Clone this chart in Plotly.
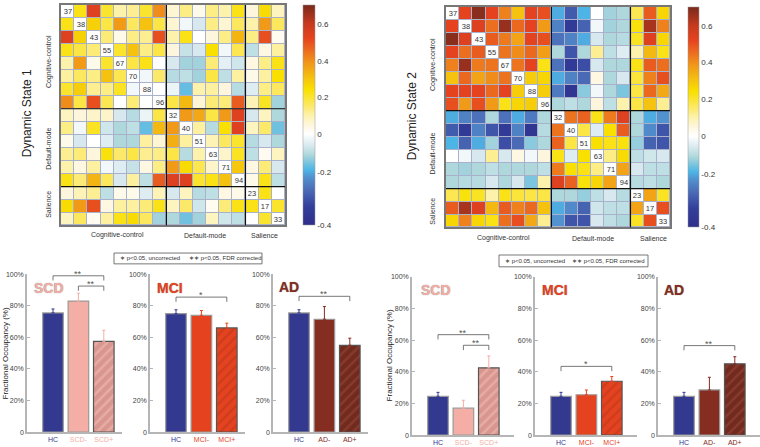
import numpy as np
import plotly.graph_objects as go

W, H = 760, 447

# region numbers on the matrix diagonal
region_ids = [37, 38, 43, 55, 67, 70, 88, 96, 32, 40, 51, 63, 71, 94, 23, 17, 33]

state1 = [
    [0, .22, .54, .20, .10, .12, .20, .40, .06, .13, .03, .13, .10, .22, .05, .25, .08],
    [.22, 0, .27, .18, .38, .16, .30, .18, .06, -.02, -.06, .13, .06, .16, .10, .38, .16],
    [.54, .27, 0, .14, .03, .13, .12, .50, .10, .22, 0, .05, .13, .33, .13, .50, .02],
    [.22, .18, .14, 0, .20, .30, .13, .18, .05, -.08, -.06, .24, -.02, .17, -.09, .04, .11],
    [.10, .38, .03, .20, 0, .18, .22, 0, -.06, -.12, -.12, .14, -.04, -.07, .04, .13, .22],
    [.11, .16, .13, .30, .17, 0, -.02, .15, -.10, -.09, -.12, .18, -.09, .11, .03, .11, .24],
    [.20, .28, .12, .13, .21, -.02, 0, 0, -.03, -.17, .10, .11, .05, -.10, -.05, .13, .16],
    [.40, .18, .50, .17, 0, .14, 0, 0, .18, .32, .06, .14, .14, .48, .09, .21, -.12],
    [.08, .05, .07, .07, -.06, -.10, -.03, .18, 0, .38, .35, .18, .38, .54, -.06, .08, -.11],
    [.13, -.02, .21, -.07, -.11, -.09, -.17, .32, .38, 0, .11, -.10, .24, .54, .08, .15, -.16],
    [.03, -.06, 0, -.05, -.11, -.11, .11, .06, .34, .11, 0, .09, .16, .20, -.10, -.06, -.11],
    [.12, .14, .05, .23, .15, .18, .12, .13, .18, -.10, .10, 0, .07, .21, -.09, .02, .08],
    [.10, .04, .11, -.02, -.05, -.08, .04, .13, .38, .25, .17, .07, 0, .29, .04, .14, -.06],
    [.22, .14, .33, .16, -.06, .11, -.09, .48, .54, .54, .20, .22, .30, 0, .03, .22, -.09],
    [.05, .09, .12, -.09, .03, .03, -.05, .09, -.06, .08, -.10, -.09, .04, .03, 0, .22, 0],
    [.25, .38, .50, .04, .11, .11, .14, .22, .08, .15, -.07, .02, .14, .22, .22, 0, .20],
    [.08, .16, .02, .11, .22, .25, .16, -.12, -.11, -.16, -.12, .08, -.07, -.09, 0, .20, 0],
]

state2 = [
    [0, .52, .68, .52, .42, .30, .52, .50, -.20, -.29, -.19, 0, -.12, -.11, .17, .48, .26],
    [.52, 0, .54, .45, .66, .46, .52, .38, -.24, -.35, -.28, -.02, -.12, -.11, .23, .64, .42],
    [.68, .54, 0, .48, .43, .36, .52, .50, -.26, -.24, -.20, -.06, -.11, -.10, .21, .54, .26],
    [.52, .45, .48, 0, .44, .40, .46, .37, -.11, -.30, -.11, .12, -.09, -.05, .10, .32, .22],
    [.42, .66, .43, .44, 0, .44, .52, .22, -.26, -.35, -.31, -.06, -.11, -.11, .22, .48, .45],
    [.30, .46, .36, .40, .44, 0, .28, .26, -.20, -.24, -.27, .04, -.11, -.06, .19, .42, .50],
    [.52, .52, .52, .46, .52, .28, 0, .28, -.25, -.37, -.14, -.02, -.11, -.15, .18, .46, .35],
    [.50, .38, .50, .38, .22, .26, .28, 0, -.11, -.09, -.11, .05, -.09, .10, .18, .30, .12],
    [-.20, -.24, -.26, -.11, -.26, -.20, -.25, -.11, 0, .44, .47, .22, .43, .54, -.11, -.20, -.22],
    [-.29, -.35, -.24, -.30, -.35, -.24, -.37, -.10, .44, 0, .18, -.05, .24, .48, -.11, -.23, -.30],
    [-.19, -.28, -.20, -.12, -.31, -.27, -.14, -.11, .47, .18, 0, .24, .22, .23, -.13, -.28, -.30],
    [0, -.02, -.06, .12, -.06, .04, -.02, .05, .22, -.05, .24, 0, .13, .25, -.09, -.07, -.06],
    [-.11, -.12, -.11, -.09, -.11, -.11, -.11, -.09, .43, .24, .22, .13, 0, .36, -.06, -.09, -.09],
    [-.11, -.10, -.10, -.06, -.11, -.06, -.15, .10, .54, .47, .23, .26, .36, 0, -.10, -.09, -.11],
    [.17, .23, .21, .10, .22, .19, .18, .18, -.11, -.11, -.13, -.09, -.06, -.10, 0, .36, .21],
    [.48, .64, .54, .32, .48, .42, .46, .30, -.20, -.23, -.28, -.07, -.09, -.09, .36, 0, .50],
    [.26, .42, .26, .22, .45, .50, .35, .12, -.22, -.30, -.30, -.06, -.09, -.11, .21, .50, 0],
]

# colour key, its ticks sit unevenly on the bar
key_values = [-.4, -.2, 0, .2, .4, .6, .7]
key_positions = [0, .242, .413, .583, .749, .915, 1]
key_ticks = [-.4, -.2, 0, .2, .4, .6]
key_ticktext = ["-0.4", "-0.2", "0", "0.2", "0.4", "0.6"]
color_stops = [
    (-.4, "#2f2f8a"), (-.33, "#333f9c"), (-.27, "#4a6ab6"), (-.22, "#5192cf"),
    (-.19, "#4db5e6"), (-.15, "#7cc5de"), (-.11, "#aed8dc"), (-.06, "#d7e9ee"),
    (0, "#ffffff"), (.05, "#fef6dc"), (.1, "#fdf2ac"), (.15, "#fce96a"),
    (.19, "#fbe53a"), (.24, "#f9e000"), (.3, "#f5c30f"), (.38, "#f19a18"), (.45, "#ec6e1f"),
    (.52, "#e5431f"), (.6, "#c63a1e"), (.7, "#7a2a1c"),
]

panel_names = ["SCD", "MCI", "AD", "SCD", "MCI", "AD"]
panel_colors = ["#f4aea6", "#e5431f", "#842d20", "#f4aea6", "#e5431f", "#842d20"]
bar_labels = [
    ["HC", "SCD-", "SCD+"], ["HC", "MCI-", "MCI+"], ["HC", "AD-", "AD+"],
    ["HC", "SCD-", "SCD+"], ["HC", "MCI-", "MCI+"], ["HC", "AD-", "AD+"],
]
bar_values = [
    [75.5, 83, 57.5], [75, 74, 66], [75.5, 71.5, 55],
    [24.5, 17, 42.5], [24.5, 25.5, 34], [24.5, 28.5, 45],
]
bar_errors = [
    [2.5, 5, 7], [2.5, 3, 3], [2, 8, 4.5],
    [2.5, 5, 7.5], [2.5, 3, 3], [2.5, 8, 4.5],
]
# (first bar, last bar, height, stars)
brackets = [
    [(0, 2, 99, "**"), (1, 2, 92.5, "**")],
    [(0, 2, 85.5, "*")],
    [(0, 2, 86, "**")],
    [(0, 2, 63.4, "**"), (1, 2, 56.7, "**")],
    [(0, 2, 43.4, "*")],
    [(0, 2, 56.5, "**")],
]

# pixel boxes of the panels: left, right, top, bottom
matrix_boxes = [(61, 285, 1, 225), (446, 670, 3, 227)]
key_boxes = [(303, 12, 1, 225), (688, 11, 3, 227)]
bar_boxes = [
    (27, 122, 274.5, 435), (150, 245, 274.5, 435), (273, 368, 274.5, 435),
    (412, 514, 277, 438), (535, 637, 277, 438), (658, 760, 277, 438),
]
SANS = "Liberation Sans"
HC_BLUE = "#33398f"
PX_PER_BAR = 25.4
FIRST_BAR_OFFSET = 26


def warp(v):
    return np.interp(v, key_values, key_positions)


def xdom(a, b):
    return [a / W, b / W]


def ydom(top, bottom):
    return [1 - bottom / H, 1 - top / H]


def label(fig, text, px, py, size=7.5, angle=0, color="#333"):
    fig.add_annotation(text=text, xref="paper", yref="paper", x=px / W, y=1 - py / H,
                       xanchor="center", yanchor="middle", showarrow=False, textangle=angle,
                       font=dict(family=SANS, size=size, color=color))


colorscale = [[float(warp(v)), c] for v, c in color_stops]
fig = go.Figure()
layout = {}

# connectivity matrices
for i, matrix in enumerate([state1, state2]):
    left, right, top, bottom = matrix_boxes[i]
    bar_left, bar_width, bar_top, bar_bottom = key_boxes[i]
    n = str(i + 1)
    text = [[str(region_ids[r]) if r == c else "" for c in range(17)] for r in range(17)]
    fig.add_trace(go.Heatmap(
        z=warp(np.array(matrix)), text=text, texttemplate="%{text}",
        textfont=dict(family=SANS, size=7.5, color="#333"),
        xaxis="x" + n, yaxis="y" + n, colorscale=colorscale, zmin=0, zmax=1,
        xgap=1, ygap=1,
        colorbar=dict(
            x=bar_left / W, xanchor="left", thickness=bar_width, thicknessmode="pixels",
            y=1 - bar_bottom / H, yanchor="bottom", len=(bar_bottom - bar_top) / H,
            tickvals=warp(np.array(key_ticks)).tolist(), ticktext=key_ticktext,
            tickfont=dict(family=SANS, size=8, color="#333"), ticks="",
            outlinewidth=0.5, outlinecolor="#999", xpad=0, ypad=0,
        ),
    ))
    layout["xaxis" + n] = dict(domain=xdom(left, right), range=[-.5, 16.5], showticklabels=False,
                               ticks="", showgrid=False, zeroline=False, anchor="y" + n,
                               showline=True, mirror=True, linecolor="#777", linewidth=1.5)
    layout["yaxis" + n] = dict(domain=ydom(top, bottom), range=[16.5, -.5], showticklabels=False,
                               ticks="", showgrid=False, zeroline=False, anchor="x" + n,
                               showline=True, mirror=True, linecolor="#777", linewidth=1.5)
    # network dividers after the 8th and 14th region
    for edge in [7.5, 13.5]:
        fig.add_shape(type="line", xref="x" + n, yref="y" + n, x0=edge, x1=edge, y0=-.5, y1=16.5,
                      line=dict(color="#111", width=1.2))
        fig.add_shape(type="line", xref="x" + n, yref="y" + n, y0=edge, y1=edge, x0=-.5, x1=16.5,
                      line=dict(color="#111", width=1.2))

# fractional occupancy bars
for i, box in enumerate(bar_boxes):
    left, right, top, bottom = box
    n = str(i + 3)
    cats = bar_labels[i]
    for j, cat in enumerate(cats):
        color = HC_BLUE if j == 0 else panel_colors[i]
        marker = dict(color=color, line=dict(color="#9a9a9a", width=1.2))
        if j == 2:
            stripe = {"SCD": "#f3c4bd", "MCI": "#b5361c", "AD": "#a04a3a"}[panel_names[i]]
            base = {"SCD": "#d9968e", "MCI": "#e5431f", "AD": "#702a1e"}[panel_names[i]]
            marker = dict(color=base, line=dict(color="#555", width=1.2),
                          pattern=dict(shape="/", fgcolor=stripe, bgcolor=base, size=7, solidity=.35))
        fig.add_trace(go.Bar(
            x=[cat], y=[bar_values[i][j]], width=.81, marker=marker, xaxis="x" + n, yaxis="y" + n,
            error_y=dict(type="data", symmetric=False, array=[bar_errors[i][j]], arrayminus=[0],
                         color=color, thickness=1, width=1.5),
        ))
    for first, last, level, stars in brackets[i]:
        fig.add_trace(go.Scatter(
            x=[cats[first], cats[first], cats[last], cats[last]],
            y=[level - 3, level, level, level - 3], mode="lines",
            line=dict(color="#555", width=.8), xaxis="x" + n, yaxis="y" + n, cliponaxis=False,
        ))
        fig.add_annotation(text=stars, xref="x" + n, yref="y" + n, x=(first + last) / 2, y=level,
                           xanchor="center", yanchor="middle", yshift=2, showarrow=False,
                           font=dict(family=SANS, size=9, color="#555"))
    ticktext = [f'<span style="color:{HC_BLUE if j == 0 else panel_colors[i]}">{c}</span>'
                for j, c in enumerate(cats)]
    start = FIRST_BAR_OFFSET / PX_PER_BAR
    layout["xaxis" + n] = dict(domain=xdom(left, right), anchor="y" + n,
                               range=[-start, (right - left) / PX_PER_BAR - start],
                               type="category", categoryorder="array", categoryarray=cats,
                               tickvals=cats, ticktext=ticktext, ticks="", showgrid=False,
                               tickfont=dict(family=SANS, size=7, color="#333"),
                               showline=True, linecolor="#b5b5b5", linewidth=1.5, zeroline=False)
    layout["yaxis" + n] = dict(domain=ydom(top, bottom), anchor="x" + n, range=[0, 100],
                               tickvals=[0, 20, 40, 60, 80, 100],
                               ticktext=["0", "20%", "40%", "60%", "80%", "100%"],
                               ticks="inside", ticklen=3, tickcolor="#b5b5b5", showgrid=False,
                               tickfont=dict(family=SANS, size=7, color="#444"),
                               showline=True, linecolor="#b5b5b5", linewidth=1.5, zeroline=False)

fig.update_layout(width=W, height=H, margin=dict(l=0, r=0, t=0, b=0), autosize=False,
                  paper_bgcolor="white", plot_bgcolor="white", showlegend=False,
                  barmode="overlay", **layout)
# thin cell lines show through the heatmap gaps
for n in ["1", "2"]:
    left, right, top, bottom = matrix_boxes[int(n) - 1]
    fig.add_shape(type="rect", xref="paper", yref="paper", x0=left / W, x1=right / W,
                  y0=1 - bottom / H, y1=1 - top / H, fillcolor="#a9b1cb", line_width=0, layer="below")

# matrix titles and network labels
label(fig, "Dynamic State 1", 27, 111, size=12, angle=-90, color="#222")
label(fig, "Dynamic State 2", 412, 114, size=12, angle=-90, color="#222")
for text, py in [("Cognitive-control", 59), ("Default-mode", 147), ("Salience", 204)]:
    label(fig, text, 49, py, size=7, angle=-90)
for text, px in [("Cognitive-control", 117.5), ("Default-mode", 205), ("Salience", 264.5)]:
    label(fig, text, px, 235, size=7)
for text, py in [("Cognitive-control", 62), ("Default-mode", 152), ("Salience", 211)]:
    label(fig, text, 433, py, size=7, angle=-90)
for text, px in [("Cognitive-control", 503), ("Default-mode", 593), ("Salience", 653)]:
    label(fig, text, px, 238, size=7)

label(fig, "Fractional Occupancy (%)", 5, 355, size=8, angle=-90, color="#222")
label(fig, "Fractional Occupancy (%)", 389, 357, size=8, angle=-90, color="#222")

# significance keys
for x0, x1, y0, y1, x_a, x_b, py in [(114, 262, 253, 264, 149.5, 225.5, 258.5),
                                     (499, 648, 255, 267, 534.5, 608, 261)]:
    fig.add_shape(type="rect", xref="paper", yref="paper", x0=x0 / W, x1=x1 / W,
                  y0=1 - y1 / H, y1=1 - y0 / H, line=dict(color="#555", width=.8))
    label(fig, "∗ p&lt;0.05, uncorrected", x_a, py, size=6)
    label(fig, "∗∗ p&lt;0.05, FDR corrected", x_b, py, size=6)

# group names inside the bar panels
for name, color, px, py in zip(panel_names, panel_colors,
                               [49.5, 170, 289, 436, 555, 674], [289, 289, 288, 291, 291, 291]):
    fig.add_annotation(text=f"<b>{name}</b>", xref="paper", yref="paper", x=px / W, y=1 - py / H,
                       xanchor="center", yanchor="middle", showarrow=False,
                       font=dict(family=SANS, size=14, color=color, shadow="0 0 1px #777"))

fig.write_html("out.html", config={"displayModeBar": False},
               post_script="document.body.style.margin='0';")
